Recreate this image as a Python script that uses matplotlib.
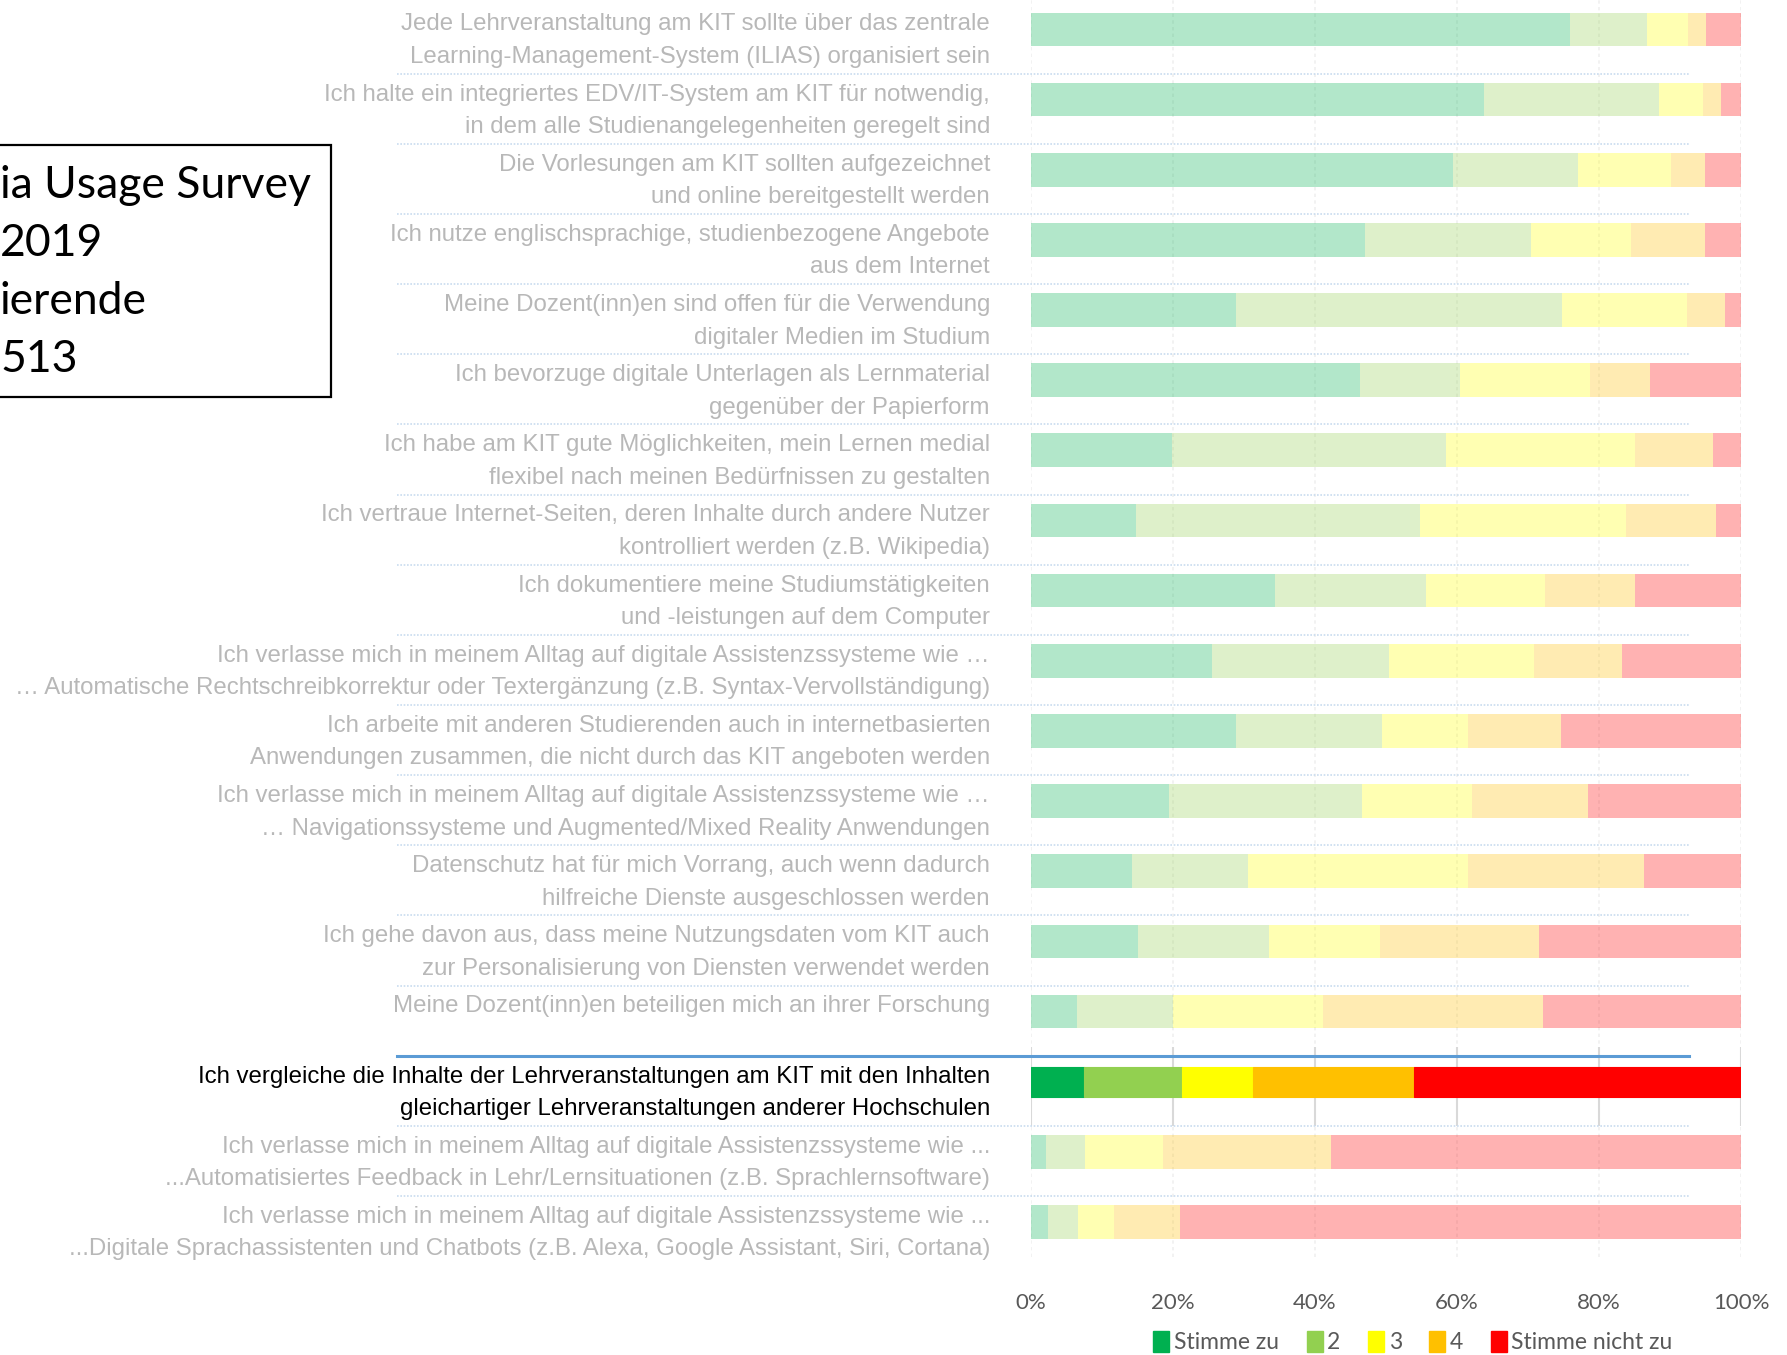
import numpy as np
import matplotlib
matplotlib.use("Agg")
import matplotlib.pyplot as plt
from matplotlib.patches import Patch, Rectangle
from matplotlib.transforms import blended_transform_factory

# 1. Data (percent per answer category)
statements = [
    "Jede Lehrveranstaltung am KIT sollte über das zentrale\nLearning-Management-System (ILIAS) organisiert sein",
    "Ich halte ein integriertes EDV/IT-System am KIT für notwendig,\nin dem alle Studienangelegenheiten geregelt sind",
    "Die Vorlesungen am KIT sollten aufgezeichnet\nund online bereitgestellt werden",
    "Ich nutze englischsprachige, studienbezogene Angebote\naus dem Internet",
    "Meine Dozent(inn)en sind offen für die Verwendung\ndigitaler Medien im Studium",
    "Ich bevorzuge digitale Unterlagen als Lernmaterial\ngegenüber der Papierform",
    "Ich habe am KIT gute Möglichkeiten, mein Lernen medial\nflexibel nach meinen Bedürfnissen zu gestalten",
    "Ich vertraue Internet-Seiten, deren Inhalte durch andere Nutzer\nkontrolliert werden (z.B. Wikipedia)",
    "Ich dokumentiere meine Studiumstätigkeiten\nund -leistungen auf dem Computer",
    "Ich verlasse mich in meinem Alltag auf digitale Assistenzssysteme wie …\n… Automatische Rechtschreibkorrektur oder Textergänzung (z.B. Syntax-Vervollständigung)",
    "Ich arbeite mit anderen Studierenden auch in internetbasierten\nAnwendungen zusammen, die nicht durch das KIT angeboten werden",
    "Ich verlasse mich in meinem Alltag auf digitale Assistenzssysteme wie …\n… Navigationssysteme und Augmented/Mixed Reality Anwendungen",
    "Datenschutz hat für mich Vorrang, auch wenn dadurch\nhilfreiche Dienste ausgeschlossen werden",
    "Ich gehe davon aus, dass meine Nutzungsdaten vom KIT auch\nzur Personalisierung von Diensten verwendet werden",
    "Meine Dozent(inn)en beteiligen mich an ihrer Forschung",
    "Ich vergleiche die Inhalte der Lehrveranstaltungen am KIT mit den Inhalten\ngleichartiger Lehrveranstaltungen anderer Hochschulen",
    "Ich verlasse mich in meinem Alltag auf digitale Assistenzssysteme wie ...\n...Automatisiertes Feedback in Lehr/Lernsituationen (z.B. Sprachlernsoftware)",
    "Ich verlasse mich in meinem Alltag auf digitale Assistenzssysteme wie ...\n...Digitale Sprachassistenten und Chatbots (z.B. Alexa, Google Assistant, Siri, Cortana)",
]

stimme_zu = [75.9, 63.8, 59.5, 47.0, 28.9, 46.3, 19.9, 14.8, 34.3, 25.5, 28.9, 19.5, 14.2, 15.0, 6.5, 7.4, 2.1, 2.4]
answer_2 = [10.8, 24.7, 17.5, 23.4, 45.9, 14.1, 38.6, 40.0, 21.3, 24.9, 20.6, 27.1, 16.3, 18.5, 13.5, 13.8, 5.5, 4.2]
answer_3 = [5.9, 6.1, 13.2, 14.1, 17.6, 18.3, 26.5, 29.0, 16.8, 20.5, 12.0, 15.5, 31.1, 15.7, 21.1, 10.0, 11.0, 5.1]
answer_4 = [2.5, 2.6, 4.7, 10.4, 5.4, 8.5, 11.1, 12.7, 12.7, 12.4, 13.2, 16.4, 24.7, 22.3, 31.0, 22.8, 23.6, 9.3]
stimme_nicht_zu = [4.9, 2.8, 5.1, 5.1, 2.2, 12.8, 3.9, 3.5, 14.9, 16.7, 25.3, 21.5, 13.7, 28.5, 27.9, 46.0, 57.8, 79.0]

categories = ["Stimme zu", "2", "3", "4", "Stimme nicht zu"]
colors = ["#00b050", "#92d050", "#ffff00", "#ffc000", "#ff0000"]
highlight = 15

box_lines = ["ia Usage Survey", "2019", "ierende", "513"]
xticks = [0, 20, 40, 60, 80, 100]

label_font = ["Liberation Sans", "DejaVu Sans"]
other_font = ["Lato", "DejaVu Sans"]

# 2. Figure and axes
W, H = 1787, 1355
fig = plt.figure(figsize=(W / 100, H / 100), dpi=100)
ax = fig.add_axes([1031 / W, 1 - 1257 / H, 710 / W, 1257 / H])

series = [stimme_zu, answer_2, answer_3, answer_4, stimme_nicht_zu]
n = len(statements)
y = np.arange(n)

left = np.zeros(n)
for vals, col in zip(series, colors):
    vals = np.array(vals)
    for i in range(n):
        if i == highlight:
            ax.barh(y[i], vals[i], left=left[i], height=0.43, color=col,
                    edgecolor=col, linewidth=0.8, zorder=3)
        else:
            ax.barh(y[i], vals[i], left=left[i], height=0.48, color=col,
                    alpha=0.3, linewidth=0, zorder=3)
    left += vals

ax.set_xlim(0, 100)
ax.set_ylim(17.5, -0.42)

# faint gridlines, solid only around the highlighted row
for xv in xticks:
    ax.axvline(xv, color="#f0f0f0", linewidth=1.2, linestyle=(0, (2, 2)), zorder=1)
    ax.vlines(xv, highlight - 0.5, highlight + 0.63, color="#d9d9d9", linewidth=1.5, zorder=2)

for s in ax.spines.values():
    s.set_visible(False)
ax.set_yticks([])
ax.set_xticks(xticks)
ax.set_xticklabels([f"{v}%" for v in xticks], fontsize=16, color="#595959", family=other_font)
ax.tick_params(axis="x", length=0, pad=26)

# 3. Row labels and separators
trans = blended_transform_factory(fig.transFigure, ax.transData)
for i, text in enumerate(statements):
    two_lines = "\n" in text
    ypos = i + 0.16 if two_lines else i - 0.08
    ax.text(990 / W, ypos, text, transform=trans, ha="right", va="center",
            fontsize=17.3, linespacing=1.62, family=label_font,
            color="black" if i == highlight else "#b8b8b8")

for i in range(n - 1):
    ys = i + 0.63
    if i == highlight - 1:
        ax.plot([397 / W, 1689 / W], [ys, ys], transform=trans, color="#5b9bd5",
                linewidth=2.2, clip_on=False, zorder=4)
    else:
        ax.plot([397 / W, 1689 / W], [ys, ys], transform=trans, color="#c9dcef",
                linewidth=1.2, linestyle=(0, (1, 1)), clip_on=False, zorder=4)

# 4. Title box (cropped at the left edge)
fig.patches.append(Rectangle((-0.01, 1 - 397 / H), 331 / W + 0.01, 252 / H,
                             transform=fig.transFigure, fill=False,
                             edgecolor="black", linewidth=1.6))
for k, line in enumerate(box_lines):
    fig.text(0.0, 1 - (186 + 58 * k) / H, line, ha="left", va="center",
             fontsize=32, family=other_font, color="black")

# 5. Legend
handles = [Patch(facecolor=c, edgecolor=c) for c in colors]
fig.legend(handles, categories, loc="lower center", bbox_to_anchor=(1413 / W, -0.014),
           ncol=5, frameon=False, handlelength=0.7, handleheight=1.0,
           handletextpad=0.2, columnspacing=1.2,
           prop={"family": other_font, "size": 16.5}, labelcolor="#595959")

plt.savefig("out.png", dpi=100)
